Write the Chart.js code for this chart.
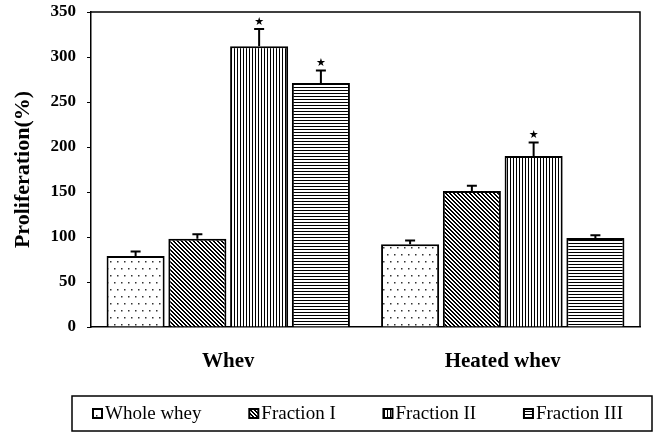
<!DOCTYPE html>
<html lang="en">
<head>
<meta charset="UTF-8">
<title>Proliferation</title>
<style>
    html, body { margin: 0; padding: 0; background: #fff; }
    canvas { display: block; }
</style>
</head>
<body>
<canvas id="chart" width="654" height="433"></canvas>

<script src="https://cdn.jsdelivr.net/npm/chart.js"></script>
<script>
// data
const groups = ['Whey', 'Heated whey'];
const seriesNames = ['Whole whey', 'Fraction I', 'Fraction II', 'Fraction III'];
const wholeWhey = [79, 92];
const fraction1 = [98, 151];
const fraction2 = [312, 190];
const fraction3 = [271, 99];
const wholeWheyErr = [5, 4];
const fraction1Err = [5, 6];
const fraction2Err = [19, 15];
const fraction3Err = [14, 3];
const wholeWheySig = [false, false];
const fraction1Sig = [false, false];
const fraction2Sig = [true, true];
const fraction3Sig = [true, false];
const yTicks = [0, 50, 100, 150, 200, 250, 300, 350];

const serif = "'Liberation Serif', 'Times New Roman', serif";

function makePattern(kind) {
    const size = kind === 'dots' ? 14 : (kind === 'diag' ? 4 : 3);
    const c = document.createElement('canvas');
    c.width = size; c.height = size;
    const g = c.getContext('2d');
    g.fillStyle = '#fff';
    g.fillRect(0, 0, size, size);
    g.fillStyle = '#000';
    if (kind === 'dots') {
        g.fillStyle = '#333';
        [[2, 2], [9, 2], [5, 9], [12, 9]].forEach(p => g.fillRect(p[0], p[1], 1.5, 1.5));
    }
    for (let x = 0; x < size; x++) {
        for (let y = 0; y < size; y++) {
            let on = false;
            if (kind === 'diag') on = ((x - y + size) % size) < 2;
            if (kind === 'vert') on = x === 0;
            if (kind === 'horiz') on = y === 0;
            if (on) g.fillRect(x, y, 1, 1);
        }
    }
    return document.getElementById('chart').getContext('2d').createPattern(c, 'repeat');
}

const fills = [makePattern('dots'), makePattern('diag'), makePattern('vert'), makePattern('horiz')];
const errors = [wholeWheyErr, fraction1Err, fraction2Err, fraction3Err];
const stars = [wholeWheySig, fraction1Sig, fraction2Sig, fraction3Sig];

// error bars, stars, the frame and the boxed legend
const extras = {
    id: 'extras',
    afterDatasetsDraw(chart) {
        const ctx = chart.ctx;
        const y = chart.scales.y;
        ctx.save();
        chart.data.datasets.forEach((ds, i) => {
            chart.getDatasetMeta(i).data.forEach((bar, j) => {
                const top = y.getPixelForValue(ds.data[j] + errors[i][j]);
                ctx.strokeStyle = '#000';
                ctx.lineWidth = 2;
                ctx.beginPath();
                ctx.moveTo(bar.x, bar.y);
                ctx.lineTo(bar.x, top);
                ctx.moveTo(bar.x - 5, top);
                ctx.lineTo(bar.x + 5, top);
                ctx.stroke();
                if (stars[i][j]) {
                    ctx.fillStyle = '#000';
                    ctx.font = "11px 'DejaVu Sans'";
                    ctx.textAlign = 'center';
                    ctx.textBaseline = 'middle';
                    ctx.fillText('★', bar.x, top - 7);
                }
            });
        });
        ctx.restore();
    },
    afterDraw(chart) {
        const ctx = chart.ctx;
        const a = chart.chartArea;
        ctx.save();
        ctx.strokeStyle = '#000';
        ctx.lineWidth = 1.5;
        ctx.beginPath();
        ctx.moveTo(a.left, a.top);
        ctx.lineTo(a.right, a.top);
        ctx.lineTo(a.right, a.bottom);
        ctx.stroke();

        // legend box
        const boxL = 72, boxR = chart.width - 2;
        const boxB = chart.height - 2, boxT = boxB - 35;
        ctx.lineWidth = 1.5;
        ctx.strokeRect(boxL, boxT, boxR - boxL, boxB - boxT);
        ctx.font = '19px ' + serif;
        ctx.textBaseline = 'middle';
        ctx.textAlign = 'left';
        const sw = 9, gap = 3;
        const widths = seriesNames.map(t => sw + gap + ctx.measureText(t).width);
        const innerL = boxL + 21, innerR = boxR - 29;
        const space = (innerR - innerL - widths.reduce((s, w) => s + w, 0)) / (widths.length - 1);
        const cy = (boxT + boxB) / 2;
        let x = innerL;
        seriesNames.forEach((t, i) => {
            ctx.fillStyle = fills[i];
            ctx.fillRect(x, cy - sw / 2, sw, sw);
            ctx.lineWidth = 2;
            ctx.strokeRect(x, cy - sw / 2, sw, sw);
            ctx.fillStyle = '#000';
            ctx.fillText(t, x + sw + gap, cy + 1);
            x += widths[i] + space;
        });
        ctx.restore();
    }
};

new Chart(document.getElementById('chart'), {
    type: 'bar',
    data: {
        labels: groups,
        datasets: [wholeWhey, fraction1, fraction2, fraction3].map((d, i) => ({
            label: seriesNames[i],
            data: d,
            backgroundColor: fills[i],
            borderColor: '#000',
            borderWidth: 2,
            categoryPercentage: 0.9,
            barPercentage: 0.94
        }))
    },
    options: {
        responsive: false,
        animation: false,
        layout: { padding: { top: 12, right: 14, left: 0, bottom: 66 } },
        plugins: {
            legend: { display: false },
            tooltip: { enabled: false }
        },
        scales: {
            x: {
                grid: { drawOnChartArea: false, drawTicks: false },
                border: { color: '#000', width: 1.5 },
                ticks: { color: '#000', padding: 22, font: { family: serif, size: 21, weight: 'bold' } },
                afterFit: s => { s.height = 40; }
            },
            y: {
                min: 0,
                max: 350,
                afterBuildTicks: s => { s.ticks = yTicks.map(v => ({ value: v })); },
                grid: { drawOnChartArea: false, tickLength: 4, color: '#000' },
                border: { color: '#000', width: 1.5 },
                ticks: { color: '#000', padding: 11, font: { family: serif, size: 17, weight: 'bold' } },
                title: {
                    display: true,
                    text: 'Proliferation(%)',
                    color: '#000',
                    padding: { top: 10, bottom: 0 },
                    font: { family: serif, size: 22, weight: 'bold' }
                },
                afterFit: s => {
                    s.width = 91;
                    s.paddingTop = 0;
                    s.paddingBottom = 0;
                }
            }
        }
    },
    plugins: [extras]
});
</script>
</body>
</html>
